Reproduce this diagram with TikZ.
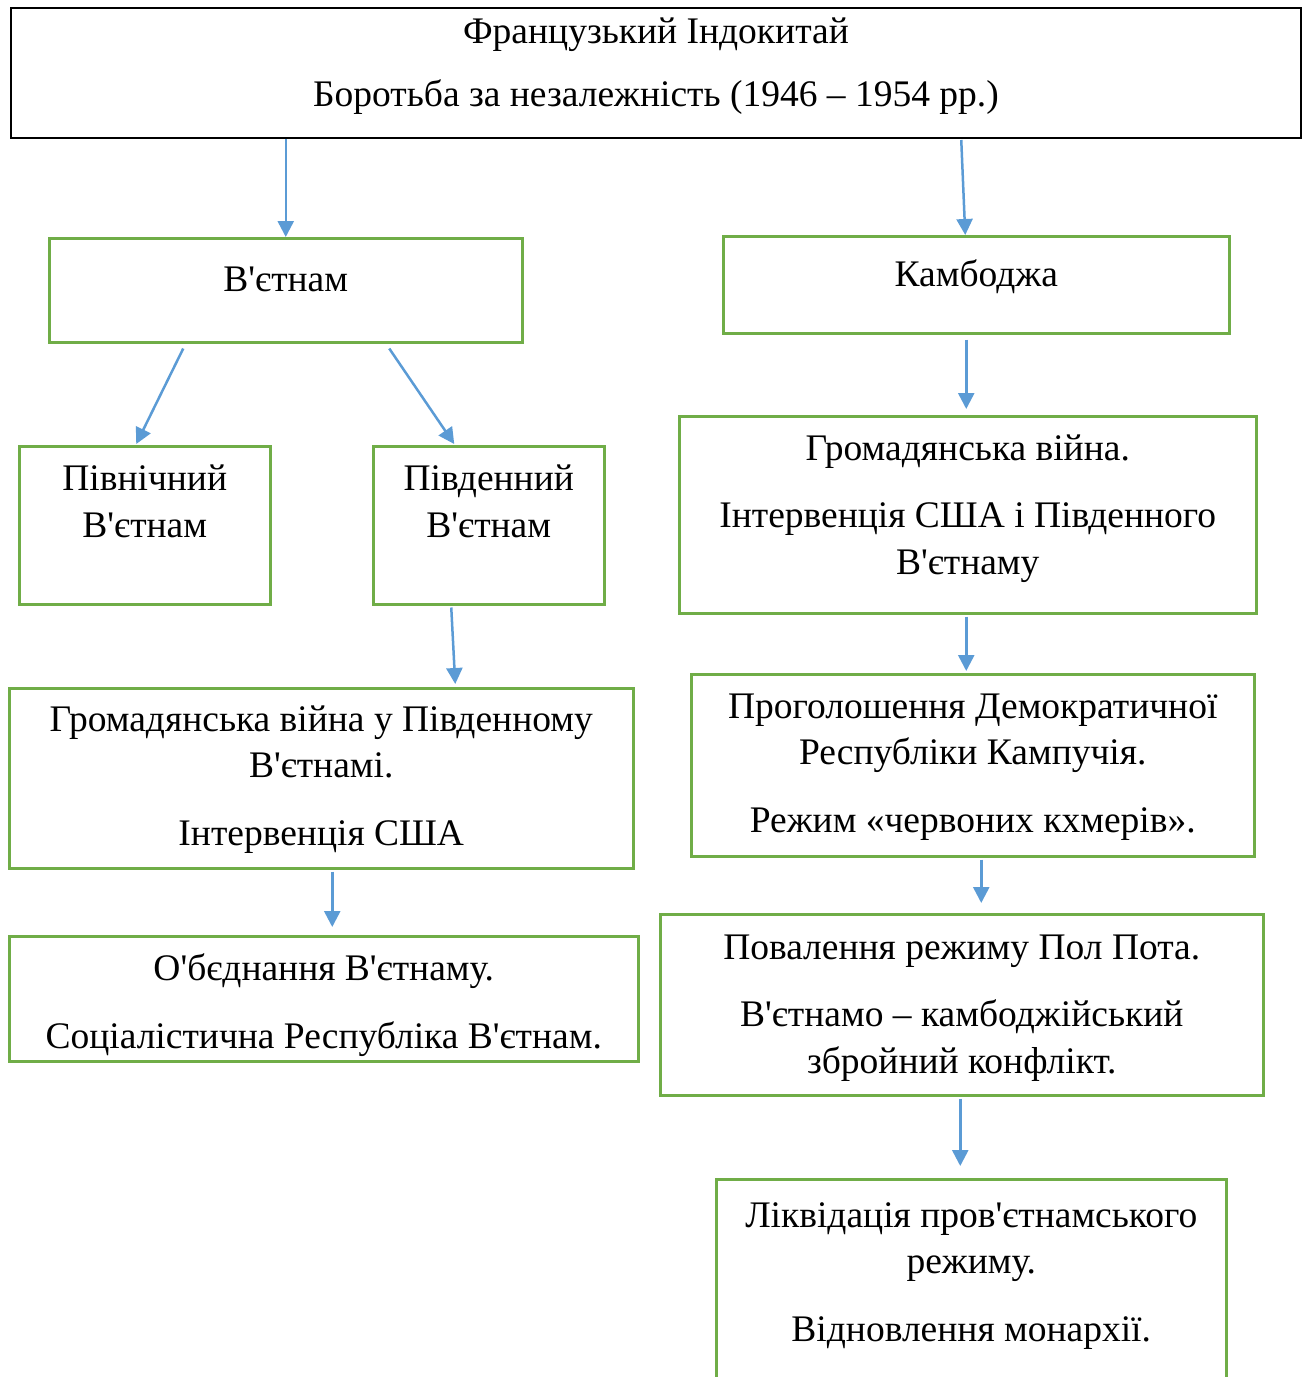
\documentclass[tikz,border=0pt]{standalone}
\usepackage{fontspec}
\setmainfont{Liberation Serif}[Ligatures=TeXOff]
\usetikzlibrary{calc, arrows.meta}
\definecolor{boxgreen}{HTML}{70AD47}
\definecolor{arrblue}{HTML}{5B9BD5}

\begin{document}
\begin{tikzpicture}[x=1pt, y=-1pt, blk/.style={draw=black, line width=2pt, anchor=north west, inner sep=0pt}, grn/.style={draw=boxgreen, line width=2.5pt, anchor=north west, inner sep=0pt}, txt/.style={anchor=base, align=center, inner sep=0pt, font=\fontsize{37.5}{46.5}\selectfont}, arr/.style={draw=arrblue, line width=2.5pt, -{Triangle[width=16pt, length=16pt]}}]
		\clip (0,0) rectangle (1305,1377);
		% top
		\node[blk, minimum width=1290pt, minimum height=130pt, label={[txt, yshift=-99pt]north:{Французький Індокитай\\[16.5pt]Боротьба за незалежність (1946 – 1954 рр.)}}] (top) at (10,7) {};
		% Vietnam
		\node[grn, minimum width=473pt, minimum height=104pt, label={[txt, yshift=-54pt]north:В'єтнам}] (vn) at (48,237) {};
		\node[grn, minimum width=251pt, minimum height=158pt, label={[txt, yshift=-92pt]north:{Північний\\В'єтнам}}] (nvn) at (18,445) {};
		\node[grn, minimum width=231pt, minimum height=158pt, label={[txt, yshift=-92pt]north:{Південний\\В'єтнам}}] (svn) at (372,445) {};
		\node[grn, minimum width=624pt, minimum height=180pt, label={[txt, yshift=-158pt]north:{Громадянська війна у Південному\\В'єтнамі.\\[21pt]Інтервенція США}}] (svwar) at (8,687) {};
		\node[grn, minimum width=629pt, minimum height=125pt, label={[txt, yshift=-113pt]north:{О'бєднання В'єтнаму.\\[21pt]Соціалістична Республіка В'єтнам.}}] (unif) at (8,935) {};
		% Cambodia
		\node[grn, minimum width=506pt, minimum height=97pt, label={[txt, yshift=-51pt]north:Камбоджа}] (kh) at (722,235) {};
		\node[grn, minimum width=577pt, minimum height=197pt, label={[txt, yshift=-159pt]north:{Громадянська війна.\\[21pt]Інтервенція США і Південного\\В'єтнаму}}] (khwar) at (678,415) {};
		\node[grn, minimum width=563pt, minimum height=182pt, label={[txt, yshift=-159pt]north:{Проголошення Демократичної\\Республіки Кампучія.\\[21pt]Режим «червоних кхмерів».}}] (kamp) at (690,673) {};
		\node[grn, minimum width=603pt, minimum height=181pt, label={[txt, yshift=-160pt]north:{Повалення режиму Пол Пота.\\[21pt]В'єтнамо – камбоджійський\\збройний конфлікт.}}] (polpot) at (659,913) {};
		\node[grn, minimum width=510pt, minimum height=260pt, label={[txt, yshift=-163pt]north:{Ліквідація пров'єтнамського\\режиму.\\[21pt]Відновлення монархії.}}] (restore) at (715,1178) {};
		% arrows
		\draw[arr] (top.south -| vn.north) -- (vn.north);
		\draw[arr] ($(top.south -| kh.north)+(-15,1)$) -- ($(kh.north)+(-11,0)$);
		\draw[arr] ($(vn.south)+(-102.5,5)$) -- ($(nvn.north)+(-8.5,-1)$);
		\draw[arr] ($(vn.south)+(103.5,5)$) -- ($(svn.north)+(-34.5,-1)$);
		\draw[arr] ($(kh.south)+(-10,5)$) -- ($(khwar.north)+(-1.5,-6)$);
		\draw[arr] ($(svn.south)+(-37.5,2)$) -- ($(svwar.north)+(134,-3)$);
		\draw[arr] ($(khwar.south)+(-1.5,2)$) -- ($(kamp.north)+(-6.5,-2)$);
		\draw[arr] ($(svwar.south)+(11,2)$) -- ($(unif.north)+(8.5,-8)$);
		\draw[arr] ($(kamp.south)+(8.5,2)$) -- ($(polpot.north)+(19.5,-10)$);
		\draw[arr] ($(polpot.south)+(-1.5,2)$) -- ($(restore.north)+(-11,-12)$);
	\end{tikzpicture}
\end{document}
